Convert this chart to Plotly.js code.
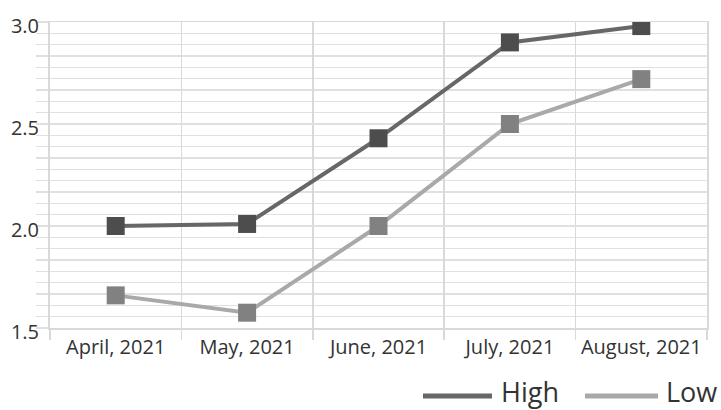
<!DOCTYPE html>
<html>
<head>
<meta charset="utf-8">
<script src="https://cdn.plot.ly/plotly-3.0.1.min.js"></script>
<style>html,body{margin:0;padding:0;background:#fff;}#chart{width:721px;height:410px;}</style>
</head>
<body>
<div id="chart"></div>
<script>
var categories = ["April, 2021", "May, 2021", "June, 2021", "July, 2021", "August, 2021"];
var highValues = [2.0, 2.01, 2.43, 2.9, 2.98];
var lowValues = [1.66, 1.575, 2.0, 2.5, 2.72];
var seriesNames = ["High", "Low"];
var seriesLineColors = ["#676767", "#a9a9a9"];
var seriesMarkerColors = ["#4d4d4d", "#818181"];
var yTickValues = [1.5, 2.0, 2.5, 3.0];
var yTickLabels = ["1.5", "2.0", "2.5", "3.0"];

var FONT = "Open Sans, Noto Sans, sans-serif";
var gridC = "#e0e0e0";

var seriesValues = [highValues, lowValues];
var traces = seriesValues.map(function (vals, i) {
  return {x: categories, y: vals, name: seriesNames[i], mode: "lines+markers",
    line: {color: seriesLineColors[i], width: 4},
    marker: {symbol: "square", size: 18, color: seriesMarkerColors[i]}};
});

// legend drawn as line swatches + text (paper coords, plot area is 50..707 x 22..328)
var legendShapes = [];
var legendAnn = [];
var legendItems = [
  {x0: 423, x1: 492, tx: 499},
  {x0: 585, x1: 658, tx: 664}
];
function px(x) { return (x - 50) / 657; }
function py(y) { return (328 - y) / 306; }
legendItems.forEach(function (it, i) {
  legendShapes.push({type: "line", xref: "paper", yref: "paper",
    x0: px(it.x0), x1: px(it.x1), y0: py(396), y1: py(396),
    line: {color: seriesLineColors[i], width: 5}});
  legendAnn.push({xref: "paper", yref: "paper", x: px(it.tx), y: py(391),
    xanchor: "left", yanchor: "middle", showarrow: false, text: seriesNames[i],
    font: {family: FONT, size: 27, color: "#333"}});
});

var layout = {
  width: 721, height: 410,
  margin: {l: 50, r: 14, t: 22, b: 82, autoexpand: false},
  paper_bgcolor: "#fff", plot_bgcolor: "#fff",
  font: {family: FONT, color: "#333", size: 20},
  showlegend: false,
  xaxis: {
    type: "category", range: [-0.5, 4.5], tickson: "boundaries",
    showgrid: true, gridcolor: "#d9d9d9", gridwidth: 1.5,
    ticks: "outside", ticklen: 10, tickcolor: "#d9d9d9", tickwidth: 1.5,
    showline: true, linecolor: "#d9d9d9", linewidth: 1.5, mirror: true,
    tickfont: {family: FONT, size: 20, color: "#333"}, zeroline: false
  },
  yaxis: {
    range: [1.5, 3.0], tickvals: yTickValues, ticktext: yTickLabels,
    showgrid: true, gridcolor: gridC, gridwidth: 1.2,
    ticks: "outside", ticklen: 12, tickcolor: gridC, tickwidth: 1.2,
    showline: true, linecolor: "#d9d9d9", linewidth: 2, mirror: true,
    zeroline: false, ticklabelshift: 4, ticklabelstandoff: -7,
    tickfont: {family: FONT, size: 20, color: "#333"},
    minor: {tick0: 1.5, dtick: 0.5 / 9, showgrid: true, gridcolor: gridC, gridwidth: 1.2,
            ticks: "outside", ticklen: 12, tickcolor: gridC, tickwidth: 1.2}
  },
  shapes: legendShapes,
  annotations: legendAnn
};

Plotly.newPlot("chart", traces, layout, {displayModeBar: false, staticPlot: true});
</script>
</body>
</html>
